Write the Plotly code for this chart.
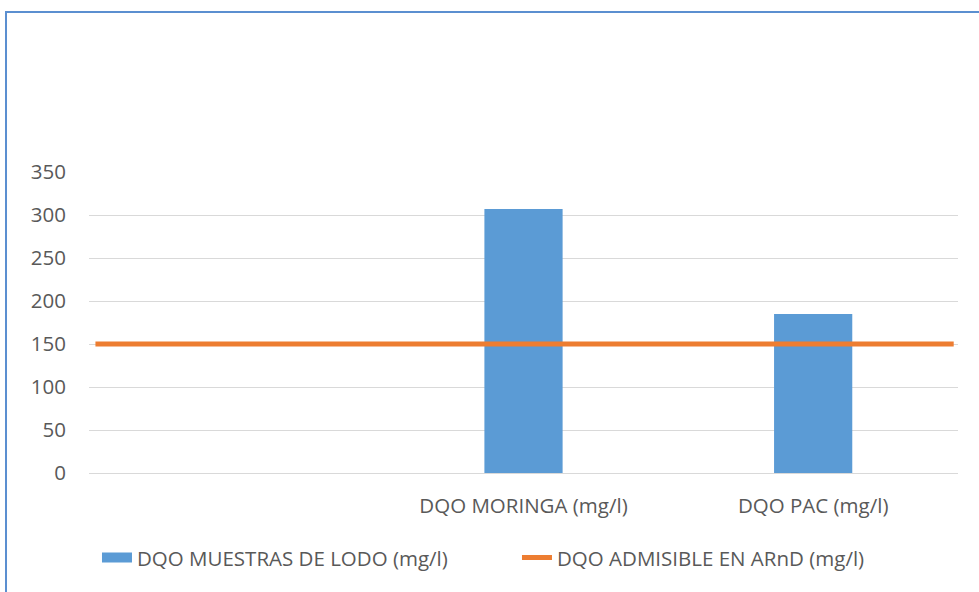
import plotly.graph_objects as go

categories = ["", "DQO MORINGA (mg/l)", "DQO PAC (mg/l)"]
muestras = [0, 307, 185]
admisible = [150, 150, 150]
series_names = ["DQO MUESTRAS DE LODO (mg/l)", "DQO ADMISIBLE EN ARnD (mg/l)"]
y_ticks = [0, 50, 100, 150, 200, 250, 300, 350]

FONT = "Open Sans, sans-serif"
GREY = "#595959"
BLUE = "#5B9BD5"
ORANGE = "#ED7D31"
FS = 20.5

xs = list(range(len(categories)))

fig = go.Figure()
fig.add_trace(go.Bar(
    x=xs, y=muestras, name=series_names[0], showlegend=False,
    marker=dict(color=BLUE, line=dict(width=0)),
    width=0.27,
))
# legend entry for bars (wide rectangular swatch as in the original)
fig.add_trace(go.Scatter(
    x=[None], y=[None], name=series_names[0], mode="lines",
    line=dict(color=BLUE, width=14),
))
fig.add_trace(go.Scatter(
    x=xs, y=admisible, name=series_names[1], xaxis="x2",
    mode="lines", line=dict(color=ORANGE, width=5),
))

fig.update_layout(
    width=979, height=592,
    margin=dict(l=89, r=21, t=172, b=119),
    paper_bgcolor="white", plot_bgcolor="white",
    font=dict(family=FONT, size=FS, color=GREY),
    showlegend=True,
    legend=dict(orientation="h", x=0.4925, xanchor="center", y=-0.215, yanchor="top",
                font=dict(family=FONT, size=FS, color=GREY), traceorder="normal",
                entrywidth=375),
    xaxis=dict(range=[-0.5, 2.5], tickvals=xs, ticktext=categories,
               showgrid=False, zeroline=False, showline=True, linecolor="#D9D9D9",
               linewidth=1, ticks="", ticklabelstandoff=14,
               tickfont=dict(family=FONT, size=FS, color=GREY)),
    xaxis2=dict(range=[-0.015, 2.01], overlaying="x", visible=False),
    yaxis=dict(range=[0, 350], tickvals=y_ticks, showgrid=True, gridcolor="#D9D9D9",
               gridwidth=1, zeroline=False, showline=False, ticks="",
               ticklabelstandoff=22, tickfont=dict(family=FONT, size=FS, color=GREY)),
    bargap=0.73,
)

# chart frame
fig.add_shape(type="rect", xref="paper", yref="paper",
              x0=-0.0955, x1=1.2, y0=-0.6, y1=1.5316,
              line=dict(color="#5B8FD0", width=2), fillcolor="rgba(0,0,0,0)", layer="below")

fig.write_html("out.html")
